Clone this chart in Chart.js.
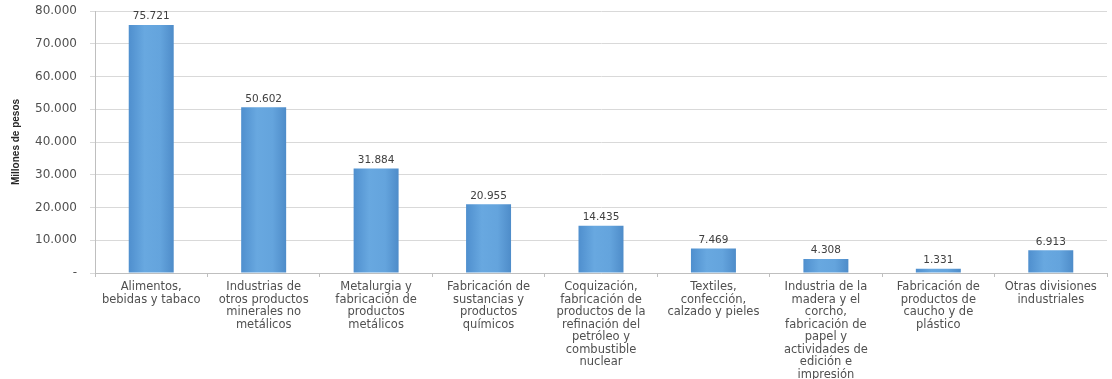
<!DOCTYPE html>
<html>
<head>
<meta charset="utf-8">
<script src="https://cdn.jsdelivr.net/npm/chart.js@4"></script>
<style>
  html, body { margin: 0; padding: 0; background: #fff; }
  #wrap { width: 1112px; height: 379px; }
</style>
</head>
<body>
<div id="wrap"><canvas id="divisiones-chart"></canvas></div>
<script>
const categorias = [
  ['Alimentos,', 'bebidas y tabaco'],
  ['Industrias de', 'otros productos', 'minerales no', 'metálicos'],
  ['Metalurgia y', 'fabricación de', 'productos', 'metálicos'],
  ['Fabricación de', 'sustancias y', 'productos', 'químicos'],
  ['Coquización,', 'fabricación de', 'productos de la', 'refinación del', 'petróleo y', 'combustible', 'nuclear'],
  ['Textiles,', 'confección,', 'calzado y pieles'],
  ['Industria de la', 'madera y el', 'corcho,', 'fabricación de', 'papel y', 'actividades de', 'edición e', 'impresión'],
  ['Fabricación de', 'productos de', 'caucho y de', 'plástico'],
  ['Otras divisiones', 'industriales']
]
const valores = [75721, 50602, 31884, 20955, 14435, 7469, 4308, 1331, 6913]
const ejeY = { min: 0, max: 80000, paso: 10000 }

function formatoMiles(v) {
  if (v === 0) return '-'
  return String(Math.round(v)).replace(/\B(?=(\d{3})+(?!\d))/g, '.')
}

const fuente = "'DejaVu Sans', sans-serif"
const grisTexto = '#505050'

// valor encima de cada barra
const etiquetasBarras = {
  id: 'etiquetasBarras',
  afterDatasetsDraw(chart) {
    const ctx = chart.ctx
    const meta = chart.getDatasetMeta(0)
    ctx.save()
    ctx.font = '10.5px ' + fuente
    ctx.fillStyle = '#404040'
    ctx.textAlign = 'center'
    ctx.textBaseline = 'bottom'
    meta.data.forEach((bar, i) => {
      ctx.fillText(formatoMiles(valores[i]), bar.x, bar.y - 3)
    })
    ctx.restore()
  }
}

function rellenoBarra(context) {
  const chart = context.chart
  const x = chart.scales.x
  if (!x || !chart.chartArea) return '#5b9bd5'
  const centro = x.getPixelForValue(context.dataIndex)
  const ancho = (x.width / categorias.length) * 0.4
  const g = chart.ctx.createLinearGradient(centro - ancho / 2, 0, centro + ancho / 2, 0)
  g.addColorStop(0, '#4f8fce')
  g.addColorStop(0.35, '#68a8e0')
  g.addColorStop(0.7, '#64a4dd')
  g.addColorStop(1, '#4e8cc9')
  return g
}

// el área del gráfico la fija el layout, no el margen de las etiquetas
function sinRelleno(scale) {
  scale.paddingTop = 0
  scale.paddingBottom = 0
  scale.paddingLeft = 0
  scale.paddingRight = 0
}

const ctx = document.getElementById('divisiones-chart').getContext('2d')
new Chart(ctx, {
  type: 'bar',
  data: {
    labels: categorias,
    datasets: [{
      data: valores,
      backgroundColor: rellenoBarra,
      borderWidth: 0,
      categoryPercentage: 1,
      barPercentage: 0.4
    }]
  },
  options: {
    responsive: true,
    maintainAspectRatio: false,
    animation: false,
    layout: { padding: { top: 11, right: 5, left: 0, bottom: 0 } },
    scales: {
      x: {
        grid: {
          display: true,
          offset: true,
          drawOnChartArea: false,
          tickLength: 4,
          color: '#bfbfbf'
        },
        border: { color: '#bfbfbf' },
        ticks: {
          color: grisTexto,
          font: { family: fuente, size: 11.5, lineHeight: '12.5px' },
          maxRotation: 0,
          autoSkip: false,
          padding: 4
        },
        afterFit: function(scale) {
          sinRelleno(scale)
          scale.height = 106
        }
      },
      y: {
        min: ejeY.min,
        max: ejeY.max,
        ticks: {
          stepSize: ejeY.paso,
          color: grisTexto,
          font: { family: fuente, size: 12 },
          padding: 13,
          callback: function(value) { return formatoMiles(value) }
        },
        grid: { color: '#d9d9d9', tickLength: 5 },
        border: { color: '#bfbfbf' },
        title: {
          display: true,
          text: 'Millones de pesos',
          color: '#262626',
          font: { family: "'Liberation Sans Narrow', 'Liberation Sans', sans-serif", size: 10, weight: 'bold' },
          padding: { top: 10, bottom: 0 }
        },
        afterFit: function(scale) {
          sinRelleno(scale)
          scale.width = 95
        }
      }
    },
    plugins: {
      legend: { display: false },
      tooltip: { enabled: false }
    }
  },
  plugins: [etiquetasBarras]
})
</script>
</body>
</html>
